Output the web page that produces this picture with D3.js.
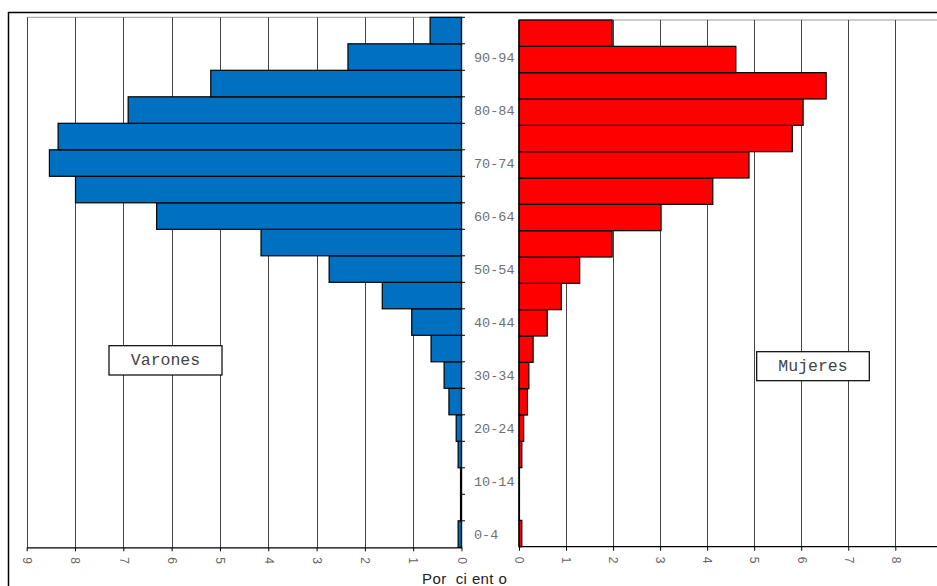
<!DOCTYPE html>
<html>
<head>
<meta charset="utf-8">
<script src="https://cdn.jsdelivr.net/npm/d3@7"></script>
<style>
  body { margin: 0; background: #fff; }
  svg { display: block; }
  .tick text { font-family: Arial, "Liberation Sans", sans-serif; font-size: 12px; fill: #666; }
  .age { font-family: "Liberation Mono", "Courier New", monospace; font-size: 13.5px; fill: #707070; }
  .boxlabel { font-family: "Liberation Mono", "Courier New", monospace; font-size: 16.5px; fill: #444; }
</style>
</head>
<body>
<div id="chart"></div>
<script>
// age groups, bottom to top
const ageGroups = ['0-4', '5-9', '10-14', '15-19', '20-24', '25-29', '30-34', '35-39', '40-44', '45-49',
  '50-54', '55-59', '60-64', '65-69', '70-74', '75-79', '80-84', '85-89', '90-94', '95-99'];
// percent of population
const varones = [0.07, 0.02, 0.02, 0.07, 0.11, 0.26, 0.36, 0.63, 1.03, 1.64,
  2.74, 4.15, 6.31, 7.99, 8.53, 8.35, 6.90, 5.19, 2.35, 0.65];
const mujeres = [0.06, 0.01, 0.01, 0.06, 0.10, 0.18, 0.21, 0.30, 0.60, 0.90,
  1.29, 1.98, 3.02, 4.12, 4.89, 5.81, 6.04, 6.53, 4.61, 1.98];
const ticksLeft = [0, 1, 2, 3, 4, 5, 6, 7, 8, 9];
const ticksRight = [0, 1, 2, 3, 4, 5, 6, 7, 8];
const axisTitle = 'Por  ci ent o';

const W = 937, H = 586;
const svg = d3.select('#chart').append('svg').attr('width', W).attr('height', H);

const xL = d3.scaleLinear().domain([0, 9]).range([461.5, 26.7]);
const xR = d3.scaleLinear().domain([0, 8]).range([519, 895.3]);
const yL = d3.scaleBand().domain(ageGroups.slice().reverse()).range([17.3, 547.3]);
const yR = d3.scaleBand().domain(ageGroups.slice().reverse()).range([20, 546.7]);

// outer frame
svg.append('line').attr('x1', 8).attr('x2', W).attr('y1', 12.5).attr('y2', 12.5)
  .attr('stroke', '#000').attr('stroke-width', 1.5);
svg.append('line').attr('x1', 8.5).attr('x2', 8.5).attr('y1', 12).attr('y2', H)
  .attr('stroke', '#000').attr('stroke-width', 1.5);

// grid, left panel
svg.append('line').attr('x1', xL(9)).attr('x2', xL(0)).attr('y1', 17.3).attr('y2', 17.3)
  .attr('stroke', '#999');
svg.append('g').selectAll('line').data(ticksLeft.filter(d => d > 0)).join('line')
  .attr('x1', d => Math.round(xL(d)) + 0.5).attr('x2', d => Math.round(xL(d)) + 0.5)
  .attr('y1', 17.3).attr('y2', 547.3)
  .attr('stroke', '#444');

// grid, right panel
svg.append('line').attr('x1', xR(0)).attr('x2', W).attr('y1', 20).attr('y2', 20)
  .attr('stroke', '#999');
svg.append('g').selectAll('line').data(ticksRight.filter(d => d > 0)).join('line')
  .attr('x1', d => Math.round(xR(d)) + 0.5).attr('x2', d => Math.round(xR(d)) + 0.5)
  .attr('y1', 20).attr('y2', 546.7)
  .attr('stroke', '#444');

// bars
svg.append('g').selectAll('rect').data(ageGroups).join('rect')
  .attr('x', (d, i) => xL(varones[i]))
  .attr('y', d => yL(d))
  .attr('width', (d, i) => xL(0) - xL(varones[i]))
  .attr('height', yL.bandwidth())
  .attr('fill', '#0070C0')
  .attr('stroke', '#000')
  .attr('stroke-width', 1.2);

svg.append('g').selectAll('rect').data(ageGroups).join('rect')
  .attr('x', xR(0))
  .attr('y', d => yR(d))
  .attr('width', (d, i) => xR(mujeres[i]) - xR(0))
  .attr('height', yR.bandwidth())
  .attr('fill', '#FF0000')
  .attr('stroke', '#000')
  .attr('stroke-width', 1.2);

// vertical axes
svg.append('line').attr('x1', xL(0)).attr('x2', xL(0)).attr('y1', 17.3).attr('y2', 547.3)
  .attr('stroke', '#000').attr('stroke-width', 1.2);
svg.append('g').selectAll('line').data(ageGroups).join('line')
  .attr('x1', xL(0)).attr('x2', xL(0) + 3.5)
  .attr('y1', d => yL(d)).attr('y2', d => yL(d))
  .attr('stroke', '#000');
svg.append('line').attr('x1', xR(0)).attr('x2', xR(0)).attr('y1', 20).attr('y2', 546.7)
  .attr('stroke', '#000').attr('stroke-width', 1.2);

// age labels (every other group)
svg.append('g').selectAll('text').data(ageGroups.filter((d, i) => i % 2 === 0)).join('text')
  .attr('class', 'age')
  .attr('x', 474)
  .attr('y', d => yL(d) + yL.bandwidth() / 2 + 1)
  .attr('dominant-baseline', 'central')
  .text(d => d);

// bottom axes
const axL = svg.append('g').attr('transform', 'translate(0,547.3)')
  .call(d3.axisBottom(xL).tickValues(ticksLeft).tickSize(4).tickSizeOuter(0).tickFormat(d3.format('d')));
const axR = svg.append('g').attr('transform', 'translate(0,546.7)')
  .call(d3.axisBottom(xR).tickValues(ticksRight).tickSize(4).tickSizeOuter(0).tickFormat(d3.format('d')));
[axL, axR].forEach(ax => {
  ax.select('.domain').attr('stroke', '#000').attr('stroke-width', 1.2);
  ax.selectAll('.tick text')
    .attr('transform', 'rotate(90)')
    .attr('x', 10).attr('y', 0)
    .attr('dy', '0.35em')
    .attr('text-anchor', 'start');
});
axR.select('.domain').attr('d', `M${xR(0)},0H${W}`);

// x title
svg.append('text')
  .attr('x', 422).attr('y', 584)
  .attr('font-family', 'Arial, "Liberation Sans", sans-serif')
  .attr('font-size', 15)
  .attr('letter-spacing', 0.4)
  .attr('fill', '#222')
  .style('white-space', 'pre')
  .text(axisTitle);

// series boxes
const boxes = [
  { name: 'Varones', x: 109, y: 345.7, w: 113, h: 29.3 },
  { name: 'Mujeres', x: 756.7, y: 351.7, w: 112.6, h: 29 },
];
const bx = svg.append('g').selectAll('g').data(boxes).join('g');
bx.append('rect')
  .attr('x', d => d.x).attr('y', d => d.y)
  .attr('width', d => d.w).attr('height', d => d.h)
  .attr('fill', '#fff').attr('stroke', '#000').attr('stroke-width', 1.2);
bx.append('text')
  .attr('class', 'boxlabel')
  .attr('x', d => d.x + d.w / 2).attr('y', d => d.y + d.h / 2)
  .attr('text-anchor', 'middle').attr('dominant-baseline', 'central')
  .text(d => d.name);
</script>
</body>
</html>
